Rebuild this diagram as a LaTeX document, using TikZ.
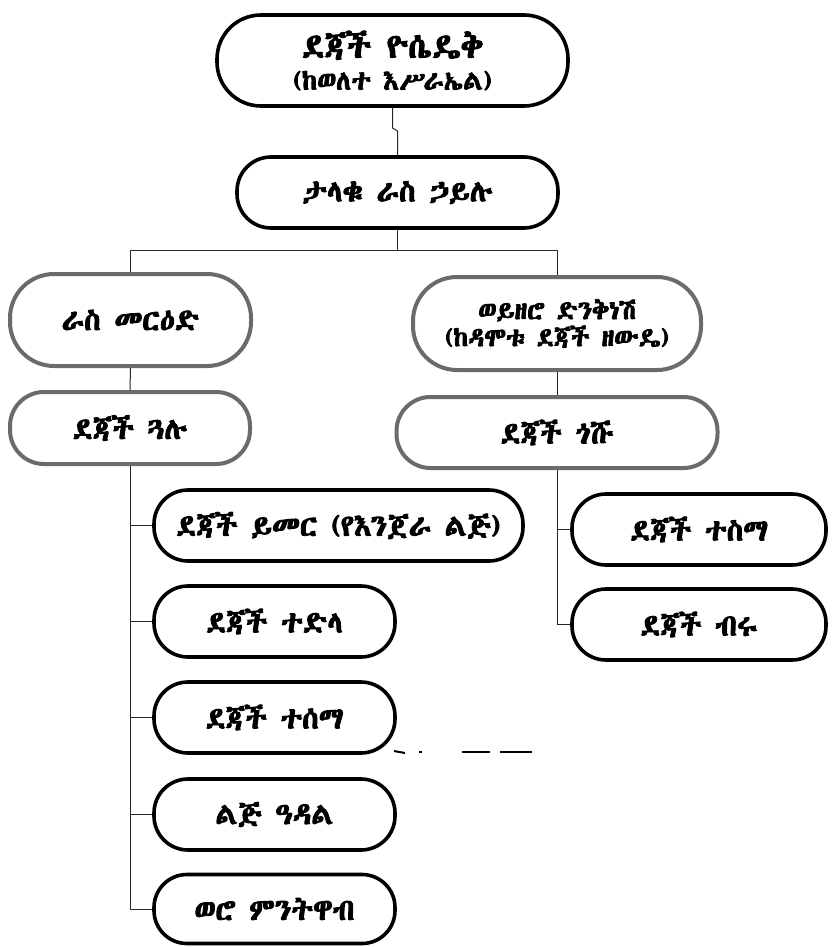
\documentclass[tikz,border=0pt]{standalone}
\usepackage{fontspec}
\def\ethname{none}
\IfFontExistsTF{Abyssinica SIL}{\newfontfamily\eth{Abyssinica SIL}[BoldFont={Abyssinica SIL},BoldFeatures={FakeBold=3}]\def\ethname{Abyssinica}}{%
 \IfFontExistsTF{FreeSerif}{\newfontfamily\eth{FreeSerif}[BoldFont={FreeSerif},BoldFeatures={FakeBold=3}]\def\ethname{FreeSerif}}{%
  \IfFontExistsTF{FreeSans}{\newfontfamily\eth{FreeSans}[BoldFont={FreeSans},BoldFeatures={FakeBold=3}]\def\ethname{FreeSans}}{%
   \IfFontExistsTF{Unifont}{\newfontfamily\eth{Unifont}[BoldFont={Unifont},BoldFeatures={FakeBold=3}]\def\ethname{Unifont}}{%
    \newfontfamily\eth{Noto Serif Ethiopic}[BoldFont={Noto Serif Ethiopic},BoldFeatures={FakeBold=3}]\def\ethname{NotoSerifEth}}}}}
\tikzset{
  box/.style={rectangle, draw=black, line width=3.6pt, align=center, inner sep=0pt,
    font=\eth\bfseries\fontsize{30}{34}\selectfont},
  graybox/.style={box, draw=black!58, line width=4pt},
  conn/.style={draw=black!85, line width=1pt},
  scan/.style={draw=black, line width=2pt},
}
\begin{document}
\begin{tikzpicture}[x=1pt,y=-1pt]
\useasboundingbox (0,0) rectangle (831,947);

% nodes
\node[box, minimum width=351pt, minimum height=91pt, rounded corners=44pt] (top) at (392.5,60.5)
  {{\fontsize{34}{36}\selectfont ደጃች ዮሴዴቅ}\\[-2pt]{\fontsize{27}{29}\selectfont (ከወለተ እሥራኤል)}};
\node[box, minimum width=321pt, minimum height=71pt, rounded corners=34pt] (tal) at (397.5,192.5) {ታላቁ ራስ ኃይሉ};

\node[graybox, minimum width=241pt, minimum height=92pt, rounded corners=44pt] (ras) at (130.5,320) {ራስ መርዕድ};
\node[graybox, minimum width=288pt, minimum height=93pt, rounded corners=44pt,
      font=\eth\bfseries\fontsize{26}{27}\selectfont] (woy) at (557,323.5) {ወይዘሮ ድንቅነሽ\\(ከዳሞቱ ደጃች ዘውዴ)};
\node[graybox, minimum width=240pt, minimum height=72pt, rounded corners=34pt] (gual) at (130,428) {ደጃች ጓሉ};
\node[graybox, minimum width=321pt, minimum height=71pt, rounded corners=34pt] (gosh) at (557,432.5) {ደጃች ጎሹ};

\node[box, minimum width=369pt, minimum height=71pt, rounded corners=34pt] (yimer) at (338.5,525.5) {ደጃች ይመር (የእንጀራ ልጅ)};
\node[box, minimum width=241pt, minimum height=71pt, rounded corners=34pt] (tedla) at (274.5,621.5) {ደጃች ተድላ};
\node[box, minimum width=241pt, minimum height=71pt, rounded corners=34pt] (tesa) at (274.5,717.5) {ደጃች ተሰማ};
\node[box, minimum width=241pt, minimum height=71pt, rounded corners=34pt] (adal) at (274.5,814.5) {ልጅ ዓዳል};
\node[box, minimum width=241pt, minimum height=69pt, rounded corners=33pt] (weyz) at (274.5,909) {ወሮ ምንትዋብ};

\node[box, minimum width=254pt, minimum height=71pt, rounded corners=34pt] (tesb) at (699,529.5) {ደጃች ተስማ};
\node[box, minimum width=254pt, minimum height=71pt, rounded corners=34pt] (biru) at (699,624.5) {ደጃች ብሩ};

% connectors
\coordinate (j1) at (392.5,128);
\coordinate (j2) at (397.5,131);
\coordinate (hb) at (0,250);
\draw[conn] (top.south) -- (j1) -- (j2) -- (tal.north);
\draw[conn] (tal.south) -- (tal.south |- hb);
\draw[conn] (ras.north) |- (woy.north |- hb) -- (woy.north);
\draw[conn] (ras.south) -- (gual.north);
\draw[conn] (woy.south) -- (gosh.north);
\foreach \c in {yimer,tedla,tesa,adal,weyz} \draw[conn] (gual.south) |- (\c.west);
\foreach \c in {tesb,biru} \draw[conn] (gosh.south) |- (\c.west);

% scan marks
\draw[scan] (394,751) -- (405,753);
\draw[scan] (419,752) -- (422,752);
\draw[scan] (462,752) -- (490,752);
\draw[scan] (500,752) -- (532,752);
\end{tikzpicture}
\end{document}
